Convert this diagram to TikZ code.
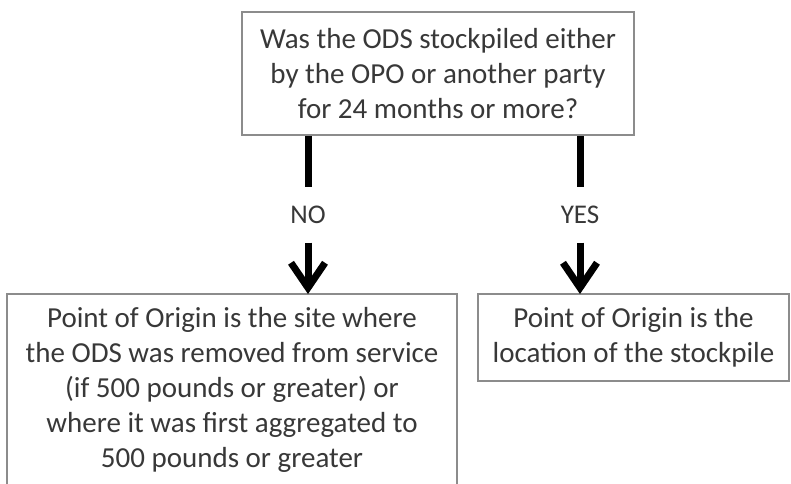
\documentclass[tikz,border=0pt]{standalone}
\usepackage{fontspec}
\setmainfont{Carlito}
\usetikzlibrary{arrows.meta}
\definecolor{txt}{HTML}{383838}
\definecolor{bord}{HTML}{8C8C8C}
\begin{document}
\begin{tikzpicture}[x=1pt,y=-1pt,
  box/.style={draw=bord,line width=2pt,fill=white,inner sep=0pt,text=txt,align=center,
    font=\fontsize{29}{34.8}\selectfont},
  lbl/.style={inner sep=0pt,minimum height=55pt,text=txt,font=\fontsize{27}{30}\selectfont},
  shaft/.style={line width=7pt,black},
  arr/.style={line width=7pt,black,-{Straight Barb[length=25pt,width=34pt]}}]
\useasboundingbox (0,0) rectangle (791,483);
\clip (0,0) rectangle (791,483);
\fill[white] (0,0) rectangle (791,483);
\node[box,minimum width=392pt,minimum height=123pt] (q) at (438,73.5)
  {Was the ODS stockpiled either\\ by the OPO or another party\\ for 24 months or more?};
\node[box,minimum width=450pt,minimum height=192pt] (no-box) at (232,390)
  {Point of Origin is the site where\\ the ODS was removed from service\\ (if 500 pounds or greater) or\\ where it was first aggregated to\\ 500 pounds or greater};
\node[box,minimum width=311pt,minimum height=87pt] (yes-box) at (633.5,337.5)
  {Point of Origin is the\\ location of the stockpile};
\node[lbl] (no) at (308,215) {NO};
\node[lbl] (yes) at (580,215) {YES};
\draw[shaft] (q.south -| no) -- (no.north);
\draw[shaft] (q.south -| yes) -- (yes.north);
\draw[arr] (no.south) -- ([yshift=-1pt]no-box.north -| no);
\draw[arr] (yes.south) -- ([yshift=-1pt]yes-box.north -| yes);
\end{tikzpicture}
\end{document}
